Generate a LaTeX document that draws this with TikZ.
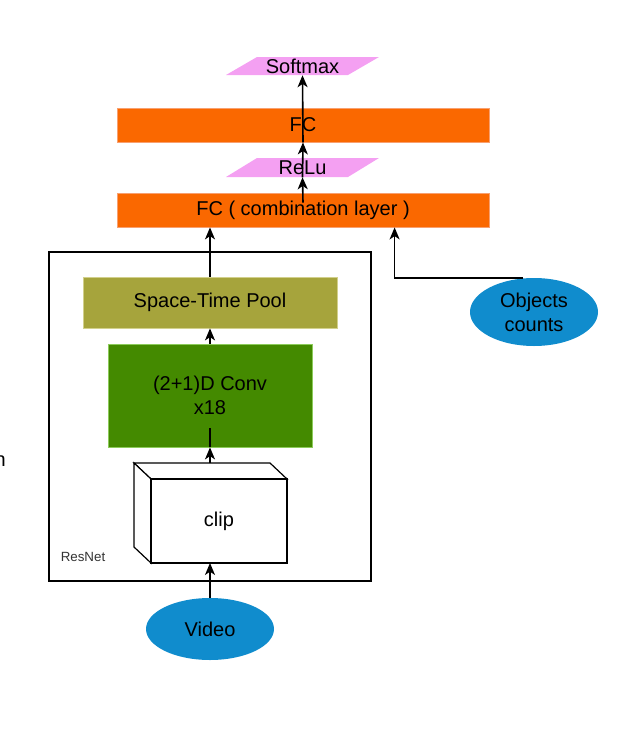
\documentclass[tikz,border=0pt]{standalone}
\usepackage{fontspec}
\setmainfont{Liberation Sans}
\usetikzlibrary{arrows.meta,shapes.geometric,calc}
\definecolor{fcorange}{HTML}{FA6800}
\definecolor{fcedge}{HTML}{F8A070}
\definecolor{actpink}{HTML}{F4A0F2}
\definecolor{poololive}{HTML}{A6A43C}
\definecolor{pooledge}{HTML}{D2D08C}
\definecolor{convgreen}{HTML}{448A00}
\definecolor{convedge}{HTML}{8CCB5A}
\definecolor{ellblue}{HTML}{108CCD}
\tikzset{
  lbl/.style={font=\fontsize{15}{18}\selectfont, text=black, align=center},
  fcbox/.style={lbl, rectangle, fill=fcorange, draw=fcedge, line width=0.6pt, minimum width=279pt, minimum height=25.5pt, inner sep=0pt},
  actbox/.style={fill=actpink, draw=none},
  blueell/.style={lbl, ellipse, fill=ellblue, draw=none, minimum width=96pt, inner sep=0pt},
  arr/.style={draw=black, line width=1.2pt, -{Stealth[length=9pt,width=7.5pt,inset=2.5pt]}},
  plain/.style={draw=black, line width=1.2pt}
}
\begin{document}
\begin{tikzpicture}[x=0.75pt,y=-0.75pt]
\useasboundingbox (0,0) rectangle (621,732);
% activation parallelograms
\fill[actbox] (226,75) -- (257,57) -- (379,57) -- (348,75) -- cycle;
\fill[actbox] (226,177) -- (257,158) -- (379,158) -- (348,177) -- cycle;
\node[lbl, inner sep=0pt, minimum width=92pt, minimum height=13.5pt] (softmax) at (302.5,66) {Softmax};
\node[lbl, inner sep=0pt, minimum width=92pt, minimum height=14.25pt] (relu) at (302.5,167.5) {ReLu};
% FC layers
\node[fcbox] (fc2) at (303,125) {FC};
\node[fcbox] (fc1) at (303,210) {FC ( combination layer )};
% ResNet frame
\draw[line width=1.2pt] (49,252) rectangle (371,581);
\node[font=\fontsize{10}{12}\selectfont, text=black!80] (resnet) at (83,557) {ResNet};
% pool and conv
\node[lbl, rectangle, fill=poololive, draw=pooledge, line width=0.6pt, minimum width=190.5pt, minimum height=38.25pt, inner sep=0pt] (pool) at (210,302.5) {Space-Time Pool};
\node[lbl, rectangle, fill=convgreen, draw=convedge, line width=0.6pt, minimum width=153pt, minimum height=77.25pt, inner sep=0pt] (conv) at (210,395.5) {(2+1)D Conv\\x18};
% clip cube
\filldraw[fill=white, draw=black, line width=0.9pt] (134,463) -- (270,463) -- (287,479) -- (151,479) -- cycle;
\filldraw[fill=white, draw=black, line width=0.9pt] (134,463) -- (151,479) -- (151,563) -- (134,547) -- cycle;
\node[lbl, rectangle, fill=white, draw=black, line width=0.9pt, minimum width=102pt, minimum height=63pt, inner sep=0pt] (clip) at (219,521) {clip};
\coordinate (cliptop) at (210,463);
\coordinate (clipbot) at (210,563);
% inputs
\node[blueell, minimum height=46.5pt] (video) at (210,629) {Video};
\node[blueell, minimum height=51pt] (obj) at (534,312) {Objects\\counts};
\node[lbl, anchor=east, inner sep=0pt] (cut) at (6,461) {n};
% connectors
\draw[arr] (video.north) -- (clipbot);
\draw[arr] (cliptop) -- (conv.south);
\draw[plain] (conv.south) -- ++(0,-19);
\draw[arr] (conv.north) -- (pool.south);
\draw[arr] (pool.north) -- (fc1.south -| pool.north);
\coordinate (objtop) at ($(obj.north)+(-11,0)$);
\coordinate (fcin) at ($(fc1.south west)+(278,0)$);
\draw[arr] (objtop) -| (fcin);
\draw[arr] ($(fc1.north)+(0,10)$) -- (relu.south);
\draw[arr] (relu.south) -- (fc2.south);
\draw[arr] (fc2.south) -- (softmax.south);
\end{tikzpicture}
\end{document}
